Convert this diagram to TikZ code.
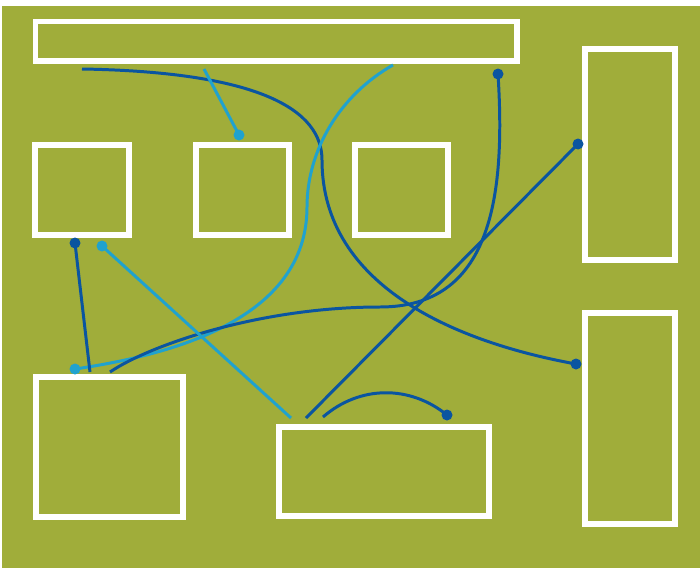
\documentclass[tikz,border=0pt]{standalone}
\usepackage{xcolor}
\usepackage{tikz}
\definecolor{olive}{RGB}{160,173,58}
\definecolor{dkblue}{RGB}{10,85,160}
\definecolor{ltblue}{RGB}{32,162,206}
\tikzset{
  bx/.style={draw=white,line width=3.2pt,inner sep=0pt},
  dk/.style={draw=dkblue,line width=1.7pt},
  lt/.style={draw=ltblue,line width=1.7pt},
  dkdot/.style={circle,fill=dkblue,inner sep=0pt,minimum size=0.22cm},
  ltdot/.style={circle,fill=ltblue,inner sep=0pt,minimum size=0.22cm}
}

\begin{document}
\begin{tikzpicture}
\useasboundingbox (0,0) rectangle (14,11.36);
\fill[white] (0,0) rectangle (14,11.36); \fill[olive] (0.04,0) rectangle (14,11.24);
% boxes
\node[bx,minimum width=9.63cm,minimum height=0.79cm] (top) at (5.525,10.535) {};
\node[bx,minimum width=1.88cm,minimum height=1.8cm] (sqa) at (1.64,7.56) {};
\node[bx,minimum width=1.86cm,minimum height=1.8cm] (sqb) at (4.85,7.56) {};
\node[bx,minimum width=1.86cm,minimum height=1.8cm] (sqc) at (8.03,7.56) {};
\node[bx,minimum width=1.8cm,minimum height=4.22cm] (rtop) at (12.6,8.27) {};
\node[bx,minimum width=1.8cm,minimum height=4.22cm] (rbot) at (12.6,2.99) {};
\node[bx,minimum width=2.94cm,minimum height=2.8cm] (blft) at (2.19,2.42) {};
\node[bx,minimum width=4.2cm,minimum height=1.78cm] (bmid) at (7.68,1.93) {};
% free ends
\coordinate (e1) at (1.64,9.98); \coordinate (e2) at (4.08,9.98); \coordinate (e3) at (7.86,10.06);
\coordinate (e4) at (2.2,3.92); \coordinate (e5) at (6.12,3.0); \coordinate (e6) at (5.82,3.0);
\coordinate (e7) at (1.8,3.92); \coordinate (e8) at (6.46,3.02);
% dots
\node[dkdot] (p1) at (11.52,4.08) {}; \node[ltdot] (p2) at (4.78,8.66) {};
\node[ltdot] (p3) at (1.5,3.98) {}; \node[dkdot] (p4) at (9.96,9.88) {};
\node[dkdot] (p5) at (11.56,8.48) {}; \node[ltdot] (p6) at (2.04,6.44) {};
\node[dkdot] (p7) at (1.5,6.5) {}; \node[dkdot] (p8) at (8.94,3.06) {};
% connectors
\draw[dk] (e1) .. controls (5.2,9.92) and (6.44,9.16) .. (6.44,8.16) .. controls (6.44,5.6) and (9.2,4.5) .. (p1.center);
\draw[lt] (e2) -- (p2.center);
\draw[lt] (e3) .. controls (6.8,9.46) and (6.14,8.36) .. (6.14,7.22) .. controls (6.14,4.96) and (3.4,4.26) .. (p3.center);
\draw[dk] (p4.center) .. controls (10.12,7.36) and (9.8,5.22) .. (7.6,5.22) .. controls (5.2,5.22) and (3.0,4.46) .. (e4);
\draw[dk] (p5.center) -- (e5);
\draw[lt] (p6.center) -- (e6);
\draw[dk] (p7.center) -- (e7);
\draw[dk] (e8) .. controls (7.2,3.66) and (8.2,3.66) .. (p8.center);
\end{tikzpicture}
\end{document}
